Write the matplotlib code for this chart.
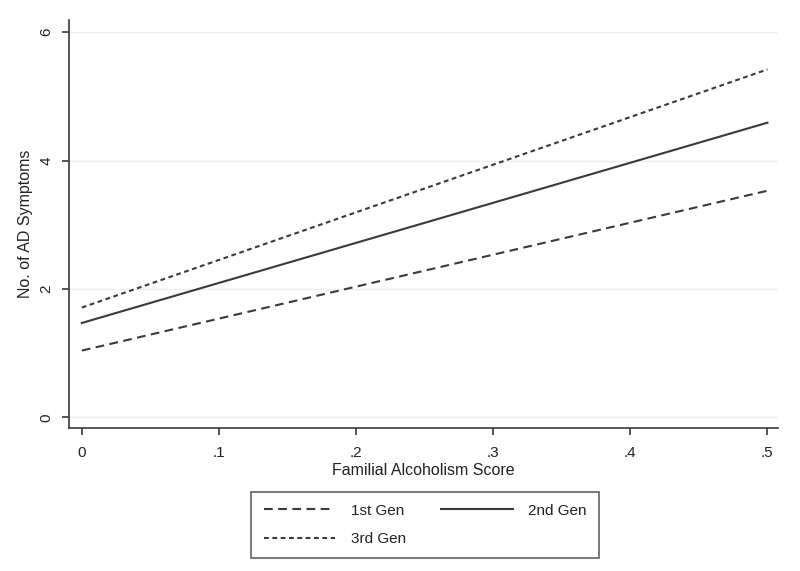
import matplotlib.pyplot as plt
import numpy as np

plt.rcParams["font.family"] = ["Liberation Sans", "DejaVu Sans"]

# predicted AD symptoms at the ends of the score range
score = [0.0, 0.5]
gen1 = [1.04, 3.53]
gen2 = [1.47, 4.59]
gen3 = [1.71, 5.42]

xticks = [0, 0.1, 0.2, 0.3, 0.4, 0.5]
xlabels = ["0", ".1", ".2", ".3", ".4", ".5"]
yticks = [0, 2, 4, 6]

col = "#3a3a3a"

fig = plt.figure(figsize=(8, 5.71), dpi=100)
ax = fig.add_axes([0.086, 0.25, 0.887, 0.715])

(l1,) = ax.plot(score, gen1, color=col, lw=1.5, dashes=(4.2, 2.6), label="1st Gen")
(l2,) = ax.plot(score, gen2, color=col, lw=1.5, label="2nd Gen")
(l3,) = ax.plot(score, gen3, color=col, lw=1.5, dashes=(2.3, 1.7), label="3rd Gen")

ax.set_xlim(-0.0095, 0.508)
ax.set_ylim(-0.17, 6.19)
ax.set_xticks(xticks)
ax.set_xticklabels(xlabels)
ax.set_yticks(yticks)
ax.tick_params(axis="y", labelrotation=90)
for lab in ax.get_yticklabels():
    lab.set_va("center")
ax.tick_params(direction="out", length=5, width=1.2, color=col,
               labelsize=11, labelcolor="#222222")
ax.tick_params(axis="x", pad=8)
ax.tick_params(axis="y", pad=6)

ax.grid(axis="y", color="#eeeeee", lw=0.9)
ax.set_axisbelow(True)
for s in ["top", "right"]:
    ax.spines[s].set_visible(False)
for s in ["left", "bottom"]:
    ax.spines[s].set_color(col)
    ax.spines[s].set_linewidth(1.2)

ax.set_xlabel("Familial Alcoholism Score", fontsize=11.5, color="#222222", labelpad=2)
ax.set_ylabel("No. of AD Symptoms", fontsize=11.5, color="#222222", labelpad=5)

leg = fig.legend([l1, l3, l2], ["1st Gen", "3rd Gen", "2nd Gen"], ncol=2,
                 loc="center", bbox_to_anchor=(425 / 800, 1 - 525 / 571),
                 frameon=True, fancybox=False, handlelength=4.7, handletextpad=1.0,
                 columnspacing=2.3, fontsize=11, borderpad=0.8, labelspacing=0.95)
leg.get_frame().set_edgecolor(col)
leg.get_frame().set_linewidth(1.2)
for t in leg.get_texts():
    t.set_color("#222222")

fig.savefig("out.png", dpi=100)
